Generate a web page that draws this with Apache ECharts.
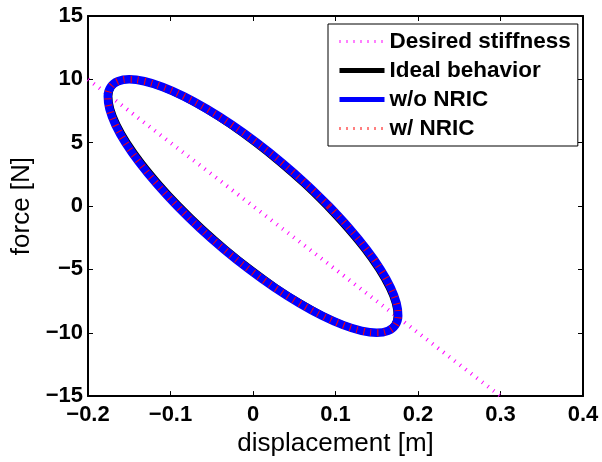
<!DOCTYPE html>
<html><head><meta charset="utf-8">
<script src="https://cdn.jsdelivr.net/npm/echarts@6/dist/echarts.min.js"></script>
<style>html,body{margin:0;padding:0;background:#fff}#c{width:602px;height:462px}</style>
</head><body><div id="c"></div>
<script>
// Axis ticks
const xTickLabels = ['\u22120.2','\u22120.1','0','0.1','0.2','0.3','0.4'];
const yTickLabels = ['\u221215','\u221210','\u22125','0','5','10','15'];
const xMin = -0.2, xMax = 0.4, xStep = 0.1;
const yMin = -15, yMax = 15, yStep = 5;

// Series names
const seriesNames = ['Desired stiffness','Ideal behavior','w/o NRIC','w/ NRIC'];

// Desired stiffness line (endpoints)
const desiredX = [-0.2, 0.3];
const desiredF = [10, -15];

// Ideal behavior loop
const idealX = [0.0895,0.0621,0.0328,0.0025,-0.0278,-0.0574,-0.0851,-0.1104,-0.1322,-0.1500,-0.1632,-0.1716,-0.1747,-0.1724,-0.1650,-0.1525,-0.1354,-0.1141,-0.0895,-0.0621,-0.0328,-0.0025,0.0278,0.0574,0.0851,0.1104,0.1322,0.1500,0.1632,0.1716,0.1747,0.1724,0.1650,0.1525,0.1354,0.1141,0.0895];
const idealF = [0,1.74,3.42,5.0,6.43,7.66,8.66,9.40,9.85,10,9.85,9.40,8.66,7.66,6.43,5.0,3.42,1.74,0,-1.74,-3.42,-5.0,-6.43,-7.66,-8.66,-9.40,-9.85,-10,-9.85,-9.40,-8.66,-7.66,-6.43,-5.0,-3.42,-1.74,0];

// w/o NRIC loop
const woX = [0.0920,0.0646,0.0352,0.0047,-0.0259,-0.0558,-0.0838,-0.1095,-0.1318,-0.1500,-0.1636,-0.1725,-0.1760,-0.1740,-0.1669,-0.1547,-0.1377,-0.1166,-0.0920,-0.0646,-0.0352,-0.0047,0.0259,0.0558,0.0838,0.1095,0.1318,0.1500,0.1636,0.1725,0.1760,0.1740,0.1669,0.1547,0.1377,0.1166,0.0920];
const woF = [0,1.74,3.42,5.0,6.43,7.66,8.66,9.40,9.85,10,9.85,9.40,8.66,7.66,6.43,5.0,3.42,1.74,0,-1.74,-3.42,-5.0,-6.43,-7.66,-8.66,-9.40,-9.85,-10,-9.85,-9.40,-8.66,-7.66,-6.43,-5.0,-3.42,-1.74,0];

// w/ NRIC loop
const wX = [0.0920,0.0646,0.0352,0.0047,-0.0259,-0.0558,-0.0838,-0.1095,-0.1318,-0.1500,-0.1636,-0.1725,-0.1760,-0.1740,-0.1669,-0.1547,-0.1377,-0.1166,-0.0920,-0.0646,-0.0352,-0.0047,0.0259,0.0558,0.0838,0.1095,0.1318,0.1500,0.1636,0.1725,0.1760,0.1740,0.1669,0.1547,0.1377,0.1166,0.0920];
const wF = [0,1.74,3.42,5.0,6.43,7.66,8.66,9.40,9.85,10,9.85,9.40,8.66,7.66,6.43,5.0,3.42,1.74,0,-1.74,-3.42,-5.0,-6.43,-7.66,-8.66,-9.40,-9.85,-10,-9.85,-9.40,-8.66,-7.66,-6.43,-5.0,-3.42,-1.74,0];

const zip = (a, b) => a.map((v, i) => [v, b[i]]);
const FONT = 'Liberation Sans, Arial, Helvetica, sans-serif';

const axisLineStyle = { show: true, onZero: false, lineStyle: { color: '#000', width: 2 } };
const tickStyle = { show: true, inside: true, length: 5, lineStyle: { color: '#000', width: 1 } };

const xLabelFmt = v => xTickLabels[Math.round((v - xMin) / xStep)] || '';
const yLabelFmt = v => yTickLabels[Math.round((v - yMin) / yStep)] || '';

const chart = echarts.init(document.getElementById('c'), null, { renderer: 'canvas' });
chart.setOption({
  animation: false,
  backgroundColor: '#fff',
  grid: { left: 88, right: 19, top: 16, bottom: 63, containLabel: false },
  xAxis: [
    {
      type: 'value', min: xMin, max: xMax, interval: xStep, position: 'bottom',
      name: 'displacement [m]', nameLocation: 'middle', nameGap: 33,
      nameTextStyle: { fontFamily: FONT, fontSize: 26, color: '#000' },
      axisLine: axisLineStyle, axisTick: tickStyle, splitLine: { show: false },
      axisLabel: { formatter: xLabelFmt, margin: 8, fontFamily: FONT, fontWeight: 'bold', fontSize: 22, color: '#000', showMinLabel: true, showMaxLabel: true }
    },
    {
      type: 'value', min: xMin, max: xMax, interval: xStep, position: 'top',
      axisLine: axisLineStyle, axisTick: tickStyle, splitLine: { show: false }, axisLabel: { show: false }
    }
  ],
  yAxis: [
    {
      type: 'value', min: yMin, max: yMax, interval: yStep, position: 'left',
      name: 'force [N]', nameLocation: 'middle', nameGap: 50, nameRotate: 90,
      nameTextStyle: { fontFamily: FONT, fontSize: 26, color: '#000' },
      axisLine: axisLineStyle, axisTick: tickStyle, splitLine: { show: false },
      axisLabel: { formatter: yLabelFmt, margin: 5, fontFamily: FONT, fontWeight: 'bold', fontSize: 22, color: '#000', showMinLabel: true, showMaxLabel: true }
    },
    {
      type: 'value', min: yMin, max: yMax, interval: yStep, position: 'right',
      axisLine: axisLineStyle, axisTick: tickStyle, splitLine: { show: false }, axisLabel: { show: false }
    }
  ],
  legend: {
    orient: 'vertical', left: 328, top: 24,
    padding: [6, 7, 6, 9], itemGap: 6, itemWidth: 45, itemHeight: 14,
    borderColor: '#000', borderWidth: 1, backgroundColor: '#fff',
    selectedMode: false,
    textStyle: { fontFamily: FONT, fontWeight: 'bold', fontSize: 22.5, color: '#000', lineHeight: 22 },
    data: [
      { name: seriesNames[0], itemStyle: { opacity: 0 }, lineStyle: { width: 3, type: [1, 6], color: '#ff00ff' } },
      { name: seriesNames[1], itemStyle: { opacity: 0 }, lineStyle: { width: 5, type: 'solid', color: '#000' } },
      { name: seriesNames[2], itemStyle: { opacity: 0 }, lineStyle: { width: 5, type: 'solid', color: '#0000ff' } },
      { name: seriesNames[3], itemStyle: { opacity: 0 }, lineStyle: { width: 3, type: [1, 6], color: '#ff0000' } }
    ]
  },
  series: [
    {
      name: seriesNames[0], type: 'line', data: zip(desiredX, desiredF), symbol: 'none',
      lineStyle: { color: '#ff00ff', width: 4, type: [1, 6] }, itemStyle: { color: '#ff00ff' }, z: 1
    },
    {
      name: seriesNames[1], type: 'line', data: zip(idealX, idealF), symbol: 'none', smooth: 0.4,
      lineStyle: { color: '#000', width: 7 }, itemStyle: { color: '#000' }, z: 2
    },
    {
      name: seriesNames[2], type: 'line', data: zip(woX, woF), symbol: 'none', smooth: 0.4,
      lineStyle: { color: '#0000ff', width: 8.5 }, itemStyle: { color: '#0000ff' }, z: 3
    },
    {
      name: seriesNames[3], type: 'line', data: zip(wX, wF), symbol: 'none', smooth: 0.4,
      lineStyle: { color: '#ff0000', width: 7, type: [1, 6] }, itemStyle: { color: '#ff0000' }, z: 4
    }
  ]
});
</script>
</body></html>
